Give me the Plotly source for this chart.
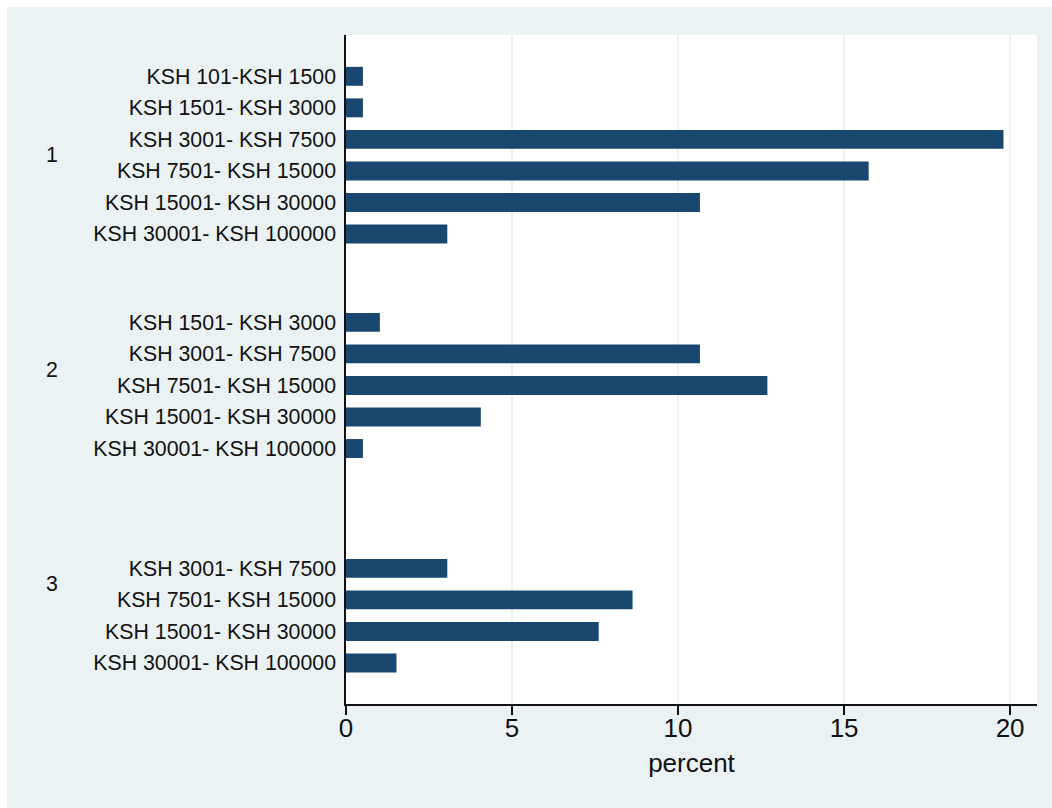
import plotly.graph_objects as go

# Household income bands (per group), share of respondents in percent
groups = ["1", "2", "3"]
income_bands = [
    "KSH 101-KSH 1500",
    "KSH 1501- KSH 3000",
    "KSH 3001- KSH 7500",
    "KSH 7501- KSH 15000",
    "KSH 15001- KSH 30000",
    "KSH 30001- KSH 100000",
]
percent_group1 = [0.51, 0.51, 19.80, 15.74, 10.66, 3.05]
percent_group2 = [None, 1.02, 10.66, 12.69, 4.06, 0.51]
percent_group3 = [None, None, 3.05, 8.63, 7.61, 1.52]
x_ticks = [0, 5, 10, 15, 20]

group_values = [percent_group1, percent_group2, percent_group3]

# Slot layout: each group reserves one slot per income band, groups separated by a gap
GROUP_STEP = 6.8
BAR_COLOR = "#1a476f"
BG_COLOR = "#eaf2f3"
FONT = "Liberation Sans, Arial, Helvetica, sans-serif"

W, H = 1052, 808
M_L, M_R, M_T, M_B = 346, 15, 35, 104

bar_pos, bar_val, tick_pos, tick_text = [], [], [], []
group_centers = []
for g, vals in enumerate(group_values):
    base = g * GROUP_STEP
    group_centers.append(base + (len(income_bands) - 1) / 2)
    for i, (band, v) in enumerate(zip(income_bands, vals)):
        if v is None:
            continue
        bar_pos.append(base + i)
        bar_val.append(v)
        tick_pos.append(base + i)
        tick_text.append(band)

fig = go.Figure(
    go.Bar(
        x=bar_val,
        y=bar_pos,
        orientation="h",
        width=0.6,
        marker=dict(color=BAR_COLOR, line=dict(width=0)),
        hoverinfo="x",
    )
)

last_pos = (len(groups) - 1) * GROUP_STEP + len(income_bands) - 1

pw = W - M_L - M_R
ph = H - M_T - M_B
def px_x(px):
    return (px - M_L) / pw
def px_y(py):
    return (H - M_B - py) / ph

# Group labels on the far left
for name, yc in zip(groups, group_centers):
    fig.add_annotation(
        x=px_x(52),
        xref="paper",
        y=yc,
        yref="y",
        text=name,
        showarrow=False,
        xanchor="center",
        yanchor="middle",
        font=dict(family=FONT, size=21.3, color="#111111"),
    )

# Thin white strips along the top and left edges of the canvas
fig.add_shape(type="rect", xref="paper", yref="paper", layer="below",
              x0=px_x(0), x1=px_x(W), y0=px_y(7), y1=px_y(0),
              fillcolor="white", line=dict(width=0))
fig.add_shape(type="rect", xref="paper", yref="paper", layer="below",
              x0=px_x(0), x1=px_x(7), y0=px_y(H), y1=px_y(0),
              fillcolor="white", line=dict(width=0))

fig.update_layout(
    width=W,
    height=H,
    margin=dict(l=M_L, r=M_R, t=M_T, b=M_B, pad=0),
    paper_bgcolor=BG_COLOR,
    plot_bgcolor="white",
    showlegend=False,
    font=dict(family=FONT, color="#111111"),
    xaxis=dict(
        range=[0, 20.81],
        tickvals=x_ticks,
        ticktext=[str(t) for t in x_ticks],
        ticks="outside",
        ticklen=9,
        tickwidth=1.5,
        tickcolor="#111111",
        ticklabelstandoff=-9,
        tickfont=dict(family=FONT, size=26, color="#111111"),
        showline=True,
        linecolor="#111111",
        linewidth=1.5,
        showgrid=True,
        gridcolor=BG_COLOR,
        gridwidth=2,
        zeroline=False,
        title=dict(text="percent", font=dict(family=FONT, size=26, color="#111111"), standoff=12),
    ),
    yaxis=dict(
        range=[last_pos + 1.30, -1.31],
        tickvals=tick_pos,
        ticktext=tick_text,
        ticks="",
        ticklabelstandoff=4,
        tickfont=dict(family=FONT, size=21.3, color="#111111"),
        showline=True,
        linecolor="#111111",
        linewidth=1.5,
        showgrid=False,
        zeroline=False,
    ),
)

fig.write_html("out.html")
